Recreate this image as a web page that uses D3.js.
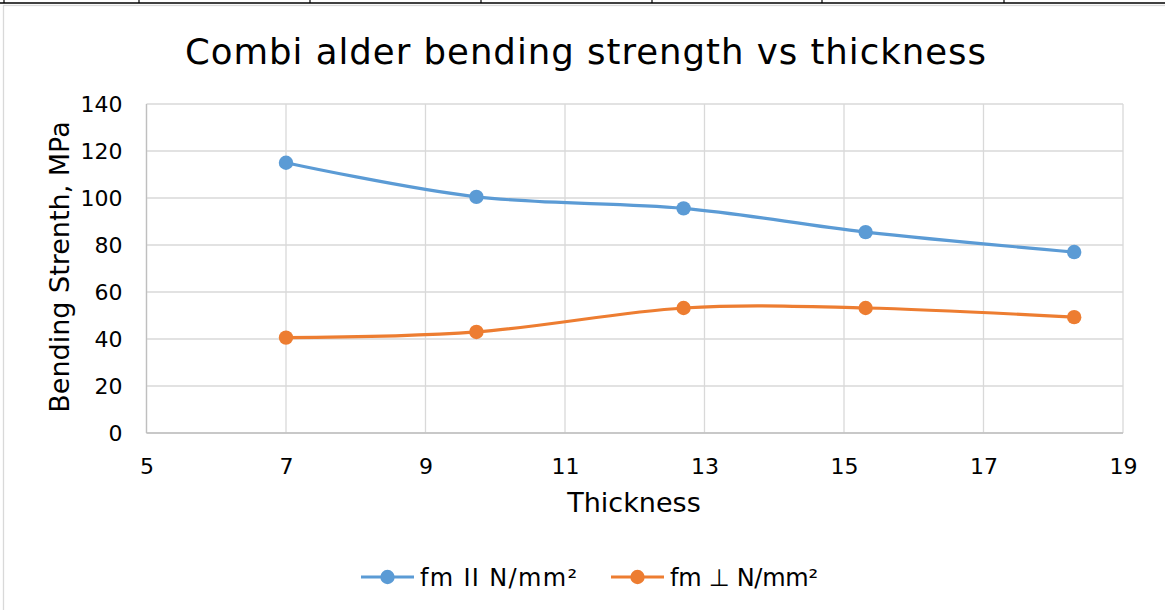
<!DOCTYPE html>
<html>
<head>
<meta charset="utf-8">
<script src="https://cdn.jsdelivr.net/npm/d3@7"></script>
<style>
  html, body { margin: 0; padding: 0; background: #fff; }
  svg { display: block; }
  text { font-family: "DejaVu Sans", Verdana, sans-serif; fill: #000; }
</style>
</head>
<body>
<svg id="chart" width="1165" height="610"></svg>
<script>
// Sample thickness (mm) and bending strength (MPa)
const thickness = [7, 9.73, 12.7, 15.31, 18.3];
const fmParallel = [115.0, 100.5, 95.6, 85.5, 77.0];
const fmPerpendicular = [40.6, 43.0, 53.2, 53.2, 49.3];
const seriesNames = ["fm II N/mm\u00B2", "fm \u22A5 N/mm\u00B2"];
const seriesColors = ["#5b9bd5", "#ed7d31"];
const xTicks = [5, 7, 9, 11, 13, 15, 17, 19];
const yTicks = [0, 20, 40, 60, 80, 100, 120, 140];

const svg = d3.select("#chart");

// Table rule above the chart object
const tableCols = [4, 139, 310, 481, 652, 822, 1004];
svg.append("line").attr("x1", 0).attr("x2", 1165).attr("y1", 3).attr("y2", 3)
  .attr("stroke", "#000").attr("stroke-width", 1.5);
svg.selectAll(".tcol").data(tableCols).join("line")
  .attr("x1", d => d).attr("x2", d => d).attr("y1", 0).attr("y2", 3)
  .attr("stroke", "#000").attr("stroke-width", 1.2);

// Chart frame
svg.append("rect").attr("x", 3.5).attr("y", 5.5).attr("width", 1180).attr("height", 620)
  .attr("fill", "#fff").attr("stroke", "#d9d9d9").attr("stroke-width", 1.3);

const x = d3.scaleLinear().domain([5, 19]).range([146.5, 1123]);
const y = d3.scaleLinear().domain([0, 140]).range([433, 104]);

// Gridlines
svg.append("g").selectAll("line").data(yTicks).join("line")
  .attr("x1", x(5)).attr("x2", x(19))
  .attr("y1", d => y(d)).attr("y2", d => y(d))
  .attr("stroke", "#d9d9d9").attr("stroke-width", 1.3);
svg.append("g").selectAll("line").data(xTicks).join("line")
  .attr("x1", d => x(d)).attr("x2", d => x(d))
  .attr("y1", y(0)).attr("y2", y(140))
  .attr("stroke", "#d9d9d9").attr("stroke-width", 1.3);

// Axis lines
svg.append("line").attr("x1", x(5)).attr("x2", x(19)).attr("y1", y(0)).attr("y2", y(0))
  .attr("stroke", "#bfbfbf").attr("stroke-width", 1.3);
svg.append("line").attr("x1", x(5)).attr("x2", x(5)).attr("y1", y(0)).attr("y2", y(140))
  .attr("stroke", "#bfbfbf").attr("stroke-width", 1.3);

// Axes with the library's axis generators, restyled
const yAxis = svg.append("g").attr("transform", `translate(${x(5)},0)`)
  .call(d3.axisLeft(y).tickValues(yTicks).tickSize(0).tickPadding(24));
yAxis.select(".domain").remove();
yAxis.selectAll("text").attr("font-size", 22).attr("font-family", "DejaVu Sans, Verdana, sans-serif")
  .attr("fill", "#000").attr("dy", "0.36em");

const xAxis = svg.append("g").attr("transform", `translate(0,${y(0)})`)
  .call(d3.axisBottom(x).tickValues(xTicks).tickSize(0).tickPadding(25));
xAxis.select(".domain").remove();
xAxis.selectAll("text").attr("font-size", 22).attr("font-family", "DejaVu Sans, Verdana, sans-serif")
  .attr("fill", "#000");

// Titles
svg.append("text").attr("x", 585.5).attr("y", 64).attr("text-anchor", "middle")
  .attr("font-size", 35.5).attr("textLength", 801).attr("lengthAdjust", "spacing")
  .text("Combi alder bending strength vs thickness");
svg.append("text").attr("x", 634).attr("y", 512).attr("text-anchor", "middle")
  .attr("font-size", 27).text("Thickness");
svg.append("text").attr("transform", "translate(69,267) rotate(-90)").attr("text-anchor", "middle")
  .attr("font-size", 27).text("Bending Strenth, MPa");

// Series
const series = [fmParallel, fmPerpendicular];
const line = d3.line().x(d => x(d[0])).y(d => y(d[1])).curve(d3.curveCardinal.tension(0));
series.forEach((vals, i) => {
  const pts = thickness.map((t, j) => [t, vals[j]]);
  svg.append("path").datum(pts).attr("d", line)
    .attr("fill", "none").attr("stroke", seriesColors[i]).attr("stroke-width", 3.2)
    .attr("stroke-linecap", "round");
  svg.append("g").selectAll("circle").data(pts).join("circle")
    .attr("cx", d => x(d[0])).attr("cy", d => y(d[1])).attr("r", 7.2)
    .attr("fill", seriesColors[i]);
});

// Legend
const legendX = [361, 611];
const legendWidths = [157, 148];
seriesNames.forEach((name, i) => {
  const g = svg.append("g").attr("transform", `translate(${legendX[i]},577)`);
  g.append("line").attr("x1", 0).attr("x2", 53).attr("y1", 0).attr("y2", 0)
    .attr("stroke", seriesColors[i]).attr("stroke-width", 3.2);
  g.append("circle").attr("cx", 26.5).attr("cy", 0).attr("r", 7.2).attr("fill", seriesColors[i]);
  g.append("text").attr("x", 59).attr("y", 0).attr("dy", "0.36em")
    .attr("font-size", 24).attr("textLength", legendWidths[i]).attr("lengthAdjust", "spacing")
    .text(name);
});
</script>
</body>
</html>
